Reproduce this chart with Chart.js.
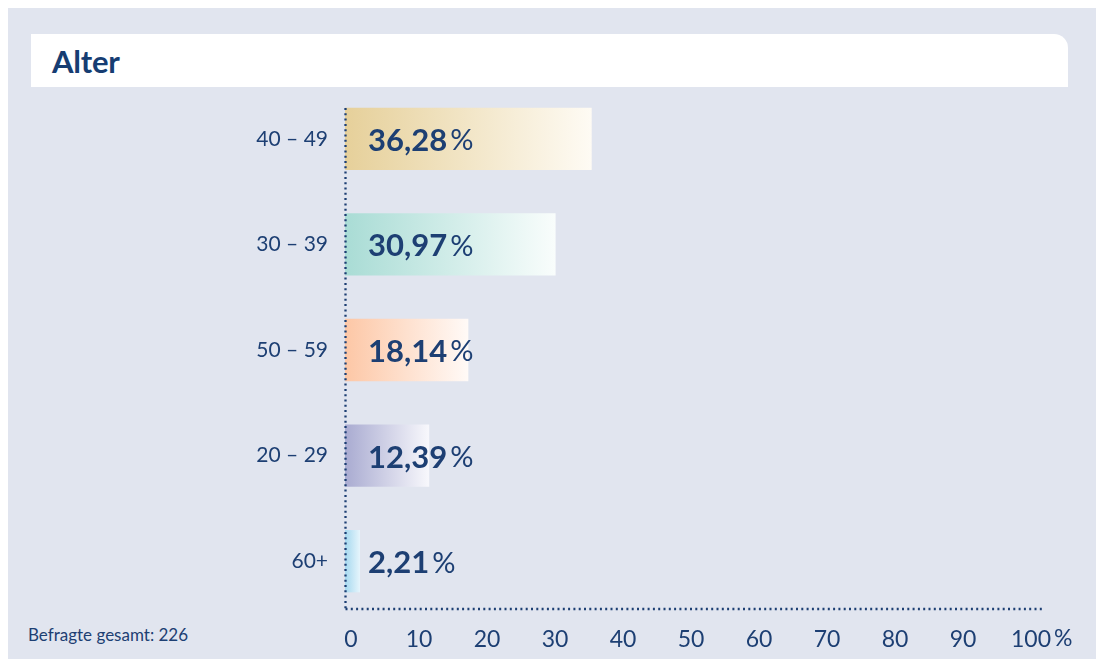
<!DOCTYPE html>
<html lang="de">
<head>
<meta charset="utf-8">
<title>Alter</title>
<script src="https://cdn.jsdelivr.net/npm/chart.js@4/dist/chart.umd.min.js"></script>
<style>
  html, body { margin: 0; padding: 0; background: #fff; }
  body { width: 1096px; height: 659px; position: relative; overflow: hidden; font-family: Lato, "Noto Sans", sans-serif; }
  .panel { position: absolute; left: 8px; top: 8px; right: 0; bottom: 0; background: #e1e5ef; }
  .header { position: absolute; left: 31px; top: 34px; width: 1037px; height: 53px; background: #fff; border-top-right-radius: 14px; }
  .header h1 { margin: 0; position: absolute; left: 21px; top: 8px; font-size: 31px; font-weight: 700; color: #163d72; letter-spacing: -0.2px; }
  .note { position: absolute; left: 28px; top: 624px; font-size: 17px; color: #1d3f73; }
  #chart { position: absolute; left: 0; top: 0; }
</style>
</head>
<body>
<div class="panel"></div>
<div class="header"><h1>Alter</h1></div>
<div class="note">Befragte gesamt: 226</div>
<canvas id="chart" width="1096" height="659"></canvas>
<script>
// Daten
const ageGroups = ['40 – 49', '30 – 39', '50 – 59', '20 – 29', '60+'];
const shares = [36.28, 30.97, 18.14, 12.39, 2.21];
const shareLabels = ['36,28', '30,97', '18,14', '12,39', '2,21'];
const xTicks = [0, 10, 20, 30, 40, 50, 60, 70, 80, 90, 100];

const startColors = ['#e6d09a', '#a9dcd5', '#fdc7a6', '#a9abd1', '#a5d8ef'];
const endColors = ['#fefbf4', '#f9fdfc', '#fffaf7', '#f8f8fc', '#e6f5fc'];
const ink = '#1d3f73';

// Verlauf von links nach rechts je Balken
function barGradient(ctx) {
    const chart = ctx.chart;
    if (!chart.chartArea) return startColors[ctx.dataIndex];
    const x = chart.scales.x;
    const x0 = x.getPixelForValue(0);
    const x1 = x.getPixelForValue(shares[ctx.dataIndex]);
    const g = chart.ctx.createLinearGradient(x0, 0, Math.max(x1, x0 + 1), 0);
    g.addColorStop(0, startColors[ctx.dataIndex]);
    g.addColorStop(1, endColors[ctx.dataIndex]);
    return g;
}

// gepunktete Achsen, Prozentwerte und "%" am Ende der Skala
const decorations = {
    id: 'decorations',
    afterDatasetsDraw(chart) {
        const c = chart.ctx;
        const area = chart.chartArea;
        const x = chart.scales.x;
        const x0 = x.getPixelForValue(0);

        c.save();
        c.strokeStyle = ink;
        c.lineWidth = 2.3;
        c.setLineDash([2, 3.3]);
        c.beginPath();
        c.moveTo(x0 + 0.5, area.top + 22);
        c.lineTo(x0 + 0.5, area.bottom - 5);
        c.moveTo(x0 + 0.5, area.bottom - 5);
        c.lineTo(area.right + 17, area.bottom - 5);
        c.stroke();
        c.restore();

        const meta = chart.getDatasetMeta(0);
        c.save();
        c.fillStyle = ink;
        c.textBaseline = 'middle';
        meta.data.forEach((bar, i) => {
            const tx = x0 + 23;
            c.font = 'bold 31px Lato, "Noto Sans", sans-serif';
            c.fillText(shareLabels[i], tx, bar.y + 2);
            const w = c.measureText(shareLabels[i]).width;
            c.font = '29px Lato, "Noto Sans", sans-serif';
            c.fillText('%', tx + w + 3, bar.y + 2);
        });

        // "%" hinter der 100
        c.font = '23px Lato, "Noto Sans", sans-serif';
        c.textBaseline = 'middle';
        const last = xTicks[xTicks.length - 1];
        const wl = c.measureText(String(last)).width;
        c.fillText('%', x.getPixelForValue(last) + 6 + wl / 2 + 3, area.bottom + 25);
        c.restore();
    }
};

new Chart(document.getElementById('chart'), {
    type: 'bar',
    data: {
        labels: ageGroups,
        datasets: [{
            data: shares,
            backgroundColor: barGradient,
            borderWidth: 0,
            barPercentage: 0.59,
            categoryPercentage: 1
        }]
    },
    options: {
        indexAxis: 'y',
        responsive: false,
        animation: false,
        layout: { padding: { top: 86, right: 71, left: 0, bottom: 0 } },
        plugins: { legend: { display: false }, tooltip: { enabled: false } },
        scales: {
            x: {
                min: 0,
                max: 100,
                afterBuildTicks: s => { s.ticks = xTicks.map(v => ({ value: v })); },
                afterFit: s => { s.height = 45; },
                grid: { display: false, drawTicks: false },
                border: { display: false },
                ticks: {
                    color: ink,
                    font: { family: 'Lato', size: 23 },
                    padding: 12,
                    labelOffset: 6,
                    maxRotation: 0,
                    autoSkip: false
                }
            },
            y: {
                afterFit: s => { s.width = 345; },
                grid: { display: false, drawTicks: false },
                border: { display: false },
                ticks: {
                    color: ink,
                    font: { family: 'Lato', size: 21 },
                    padding: 17
                }
            }
        }
    },
    plugins: [decorations]
});
</script>
</body>
</html>
